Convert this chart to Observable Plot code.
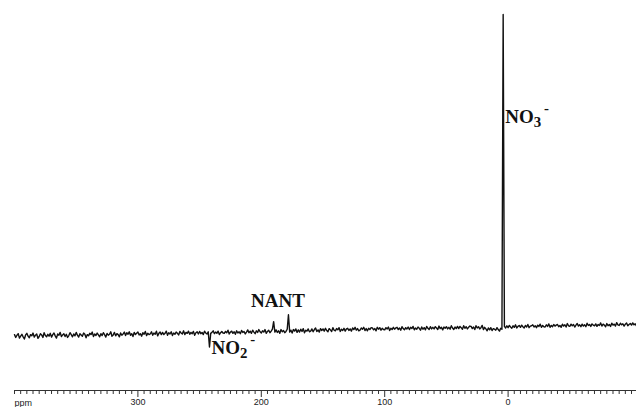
<!DOCTYPE html>
<html><head><meta charset="utf-8">
<script src="https://cdn.jsdelivr.net/npm/d3@7"></script>
<script src="https://cdn.jsdelivr.net/npm/@observablehq/plot@0.6"></script>
<style>html,body{margin:0;padding:0;background:#fff;} svg{display:block;}</style>
</head><body><div id="chart"></div>
<script>
// 15N NMR spectrum: chemical shift (ppm) from 400 down to -104 in steps of 1 ppm
const shiftStart = 400;
const shiftStep = 1;
const intensity = [
  -1.3,-2.2,-1.5,-1.0,-2.4,-1.8,-1.2,-2.0,-2.7,-1.4,
  -0.9,-1.8,-2.3,-1.3,-1.7,-0.8,-2.1,-1.5,-1.1,-2.5,
  -1.9,-1.0,-1.4,-2.2,-0.7,-1.6,-2.0,-1.2,-1.8,-0.9,
  -2.1,-1.3,-0.8,-1.7,-2.4,-1.1,-1.5,-0.6,-1.9,-1.4,
  -1.0,-1.9,-1.2,-2.2,-1.6,-0.7,-1.3,-2.0,-1.1,-1.7,
  -0.6,-1.5,-2.1,-1.0,-1.4,-1.8,-0.8,-1.2,-2.3,-1.3,
  -1.7,-0.9,-1.3,-0.5,-1.9,-1.1,-1.6,-0.8,-1.4,-2.0,
  -1.0,-1.6,-0.7,-1.3,-2.1,-0.9,-1.5,-1.2,-0.4,-1.8,
  -1.4,-0.6,-1.7,-1.0,-1.3,-2.0,-0.8,-1.5,-1.1,-0.5,
  -1.6,-0.7,-1.2,-0.4,-1.5,-1.0,-1.9,-0.6,-1.3,-0.9,
  -0.5,-1.4,-1.0,-1.8,-0.7,-1.2,-0.3,-1.6,-0.9,-1.3,
  -1.1,-0.4,-1.5,-0.8,-1.2,-0.2,-1.7,-0.9,-0.5,-1.3,
  -0.6,-1.3,-0.9,-0.2,-1.5,-0.7,-1.1,-0.4,-1.6,-0.8,
  -1.2,-0.5,-0.9,-1.4,-0.3,-0.8,-1.1,-0.1,-1.3,-0.6,
  -0.9,-0.2,-1.2,-0.6,-1.0,-0.3,-1.5,-0.7,-0.4,-1.1,
  -0.3,-1.0,-0.6,-1.3,-0.2,-0.8,-1.1,-0.4,-5.2,-0.9,
  -0.6,-0.1,-1.0,-0.5,-0.9,-0.2,-1.3,-0.7,-0.3,-0.8,
  -0.9,-0.3,-0.7,0.1,-1.1,-0.5,-0.2,-0.9,-0.4,-1.2,
  -0.1,-0.8,-0.4,-1.0,0.0,-0.6,-0.3,-1.1,-0.5,0.2,
  -0.7,-0.2,-0.9,0.1,-0.5,-1.0,-0.1,-0.6,0.3,-0.4,
  -0.8,-0.1,-0.5,0.3,-0.9,-0.3,0.1,-0.7,-0.2,0.4,
  2.8,-0.5,0.2,-0.6,-0.1,-0.9,0.3,-0.4,0.0,-0.7,
  -0.3,0.4,5.0,-0.5,0.1,-0.8,0.3,-0.2,0.5,-0.6,
  0.2,-0.5,0.4,-0.3,0.6,-0.7,0.1,-0.2,0.5,-0.4,
  -0.2,0.5,-0.4,0.3,0.8,-0.3,0.2,-0.5,0.6,0.0,
  0.5,-0.2,0.7,0.0,-0.4,0.6,0.2,-0.3,0.9,0.1,
  -0.1,0.6,0.2,0.9,-0.3,0.4,0.0,0.7,-0.2,0.5,
  0.7,0.0,0.5,-0.2,0.8,0.3,1.0,0.1,0.6,-0.1,
  0.1,0.8,0.4,1.0,0.0,0.6,-0.1,0.7,0.3,0.9,
  0.8,0.2,0.6,-0.1,1.0,0.4,0.9,0.1,0.7,0.3,
  0.2,0.9,0.5,1.1,0.0,0.7,0.3,1.0,0.4,0.8,
  1.0,0.3,0.8,0.1,1.2,0.6,0.2,0.9,0.5,1.1,
  0.3,1.0,0.6,1.3,0.2,0.8,0.4,1.1,0.7,0.1,
  1.1,0.4,0.9,0.2,1.3,0.7,0.3,1.2,0.5,1.0,
  0.5,1.2,0.8,0.3,1.4,0.6,1.0,0.2,1.1,0.7,
  1.2,0.5,1.0,0.4,1.5,0.8,0.3,1.1,0.6,1.3,
  0.6,1.3,0.9,0.4,1.5,0.7,1.2,0.5,1.0,1.4,
  1.3,0.6,1.1,0.3,1.5,0.8,1.2,0.5,0.9,1.6,
  0.3,1.0,0.5,-0.1,0.8,0.2,0.9,0.0,0.6,0.4,
  0.1,0.9,0.3,-0.2,0.7,0.4,100,1.3,0.8,1.5,
  0.9,1.6,1.1,0.7,1.5,1.0,1.8,0.8,1.3,1.6,
  1.0,1.7,1.2,0.8,1.6,1.1,1.9,0.9,1.4,1.5,
  1.8,1.1,1.5,0.9,1.7,1.3,2.0,1.0,1.6,1.2,
  1.1,1.8,1.3,2.1,1.0,1.6,1.2,1.9,1.4,1.7,
  1.9,1.2,1.6,1.0,2.0,1.4,1.8,1.1,2.2,1.5,
  1.3,2.0,1.5,1.9,1.1,1.7,2.2,1.4,1.8,1.2,
  2.0,1.4,1.8,1.2,2.3,1.6,1.9,1.3,2.1,1.7,
  1.5,2.1,1.3,1.9,1.6,2.4,1.4,2.0,1.7,1.2,
  2.2,1.5,1.9,1.3,2.3,1.7,2.0,1.4,2.5,1.8,
  1.6,2.3,1.8,2.1,1.4,2.0,2.4,1.5,1.9,2.2,
  1.7,2.4,1.8,2.1,1.5
];
const majorTicks = [300, 200, 100, 0];
const minorTicks = d3.range(400, -101, -5).filter(d => !majorTicks.includes(d));

const labelNames = ["NO3-", "NANT", "NO2-"];
const labelShift = [4, 186.5, 242];
const labelLevel = [65.8, 7.3, -7.3];

const spectrum = intensity.map((v, i) => ({ppm: shiftStart - i * shiftStep, intensity: v}));
const labels = labelNames.map((name, i) => ({name, ppm: labelShift[i], level: labelLevel[i]}));

const labelFont = {fontFamily: "Liberation Serif, Times New Roman, serif", fontWeight: "bold", fontSize: 19, fill: "#111", lineAnchor: "bottom"};
const axisFont = {fontSize: 9, fontFamily: "Liberation Sans, Arial, sans-serif", fill: "#222"};

const svg = Plot.plot({
  width: 636, height: 407,
  marginTop: 0, marginLeft: 14, marginRight: 0, marginBottom: 17,
  style: {background: "#fff", color: "#222"},
  x: {domain: [400, -100], range: [14, 631], label: null},
  y: {domain: [0, 100], range: [330, 14], axis: null},
  marks: [
    Plot.frame({anchor: "bottom", stroke: "#333", strokeWidth: 1}),
    Plot.axisX({ticks: minorTicks, tickSize: 4, tickFormat: () => "", stroke: "#333"}),
    Plot.axisX({ticks: majorTicks, tickSize: 7, tickPadding: 1, stroke: "#333", ...axisFont}),
    Plot.text(["ppm"], {x: () => 400, text: d => d, frameAnchor: "bottom", textAnchor: "start",
      lineAnchor: "top", dy: 9, ...axisFont}),
    Plot.line(spectrum, {x: "ppm", y: "intensity", stroke: "#111", strokeWidth: 1.4}),
    Plot.text(labels.filter(d => d.name !== "NANT"), {x: "ppm", y: "level", text: "name", textAnchor: "start", dx: 2, ...labelFont}),
    Plot.text(labels.filter(d => d.name === "NANT"), {x: "ppm", y: "level", text: "name", textAnchor: "middle", ...labelFont})
  ]
});

d3.select(svg).selectAll("text").each(function () {
  const m = /^NO(\d)-$/.exec(this.textContent);
  if (m) {
    const s = d3.select(this);
    s.text(null);
    s.append("tspan").text("NO");
    s.append("tspan").attr("dy", "0.28em").attr("font-size", "0.78em").text(m[1]);
    s.append("tspan").attr("dy", "-0.95em").attr("dx", "0.2em").attr("font-size", "0.78em").text("-");
  }
});

document.getElementById("chart").appendChild(svg);
</script>
</body></html>
